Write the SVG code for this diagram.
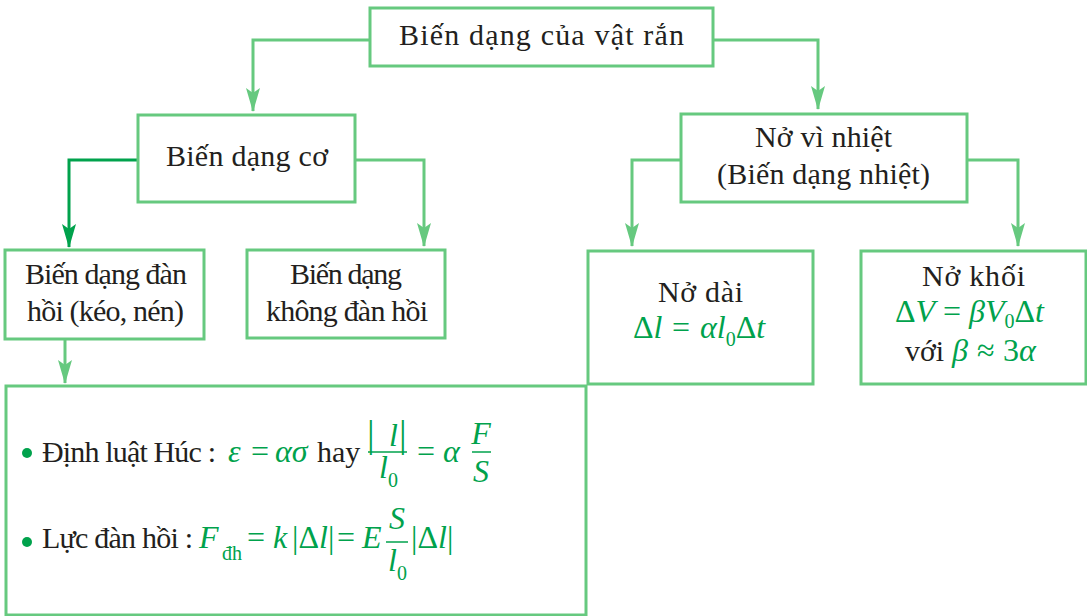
<svg xmlns="http://www.w3.org/2000/svg" width="1087" height="616" viewBox="0 0 1087 616" font-family="'Liberation Serif', 'DejaVu Serif', serif">
<style>
.box{fill:#fff;stroke:#66c97f;stroke-width:3}
.conn{fill:none;stroke:#66c97f;stroke-width:3}
.conn.dark{stroke:#00a24c}
text{font-family:'Liberation Serif','DejaVu Serif',serif;font-size:30px;fill:#231f20}
.c{text-anchor:middle}
.g{fill:#00a24c;font-size:32px}
.i{font-style:italic}
.sub{font-size:20px}
.bar{font-size:38px}
.fl{stroke:#00a24c;stroke-width:1.5}
</style>
<defs>
<marker id="ah" viewBox="0 0 24 14" refX="23" refY="7" markerWidth="24" markerHeight="14" orient="auto" markerUnits="userSpaceOnUse">
<path d="M0,0 L24,7 L0,14 L5,7 Z" fill="#66c97f"/>
</marker>
<marker id="ahd" viewBox="0 0 24 14" refX="23" refY="7" markerWidth="24" markerHeight="14" orient="auto" markerUnits="userSpaceOnUse">
<path d="M0,0 L24,7 L0,14 L5,7 Z" fill="#00a24c"/>
</marker>
</defs>

<g id="connectors">
<path class="conn" d="M370,40 H253 V111" marker-end="url(#ah)"/>
<path class="conn" d="M713,40 H818 V109" marker-end="url(#ah)"/>
<path class="conn dark" d="M138,160 H69 V247" marker-end="url(#ahd)"/>
<path class="conn" d="M355,160 H424 V246" marker-end="url(#ah)"/>
<path class="conn" d="M681,160 H632 V246" marker-end="url(#ah)"/>
<path class="conn" d="M967,160 H1018 V246" marker-end="url(#ah)"/>
<path class="conn" d="M65,339 V383" marker-end="url(#ah)"/>
</g>

<g id="root">
<rect class="box" x="370" y="8" width="343" height="58"/>
<text x="399" y="45" textLength="285" lengthAdjust="spacing">Biến dạng của vật rắn</text>
</g>

<g id="bien-dang-co">
<rect class="box" x="138" y="115" width="217" height="87"/>
<text x="166" y="166" textLength="162" lengthAdjust="spacing">Biến dạng cơ</text>
</g>

<g id="no-vi-nhiet">
<rect class="box" x="681" y="114" width="286" height="88"/>
<text x="755" y="147" textLength="137" lengthAdjust="spacing">Nở vì nhiệt</text>
<text x="717" y="184" textLength="213" lengthAdjust="spacing">(Biến dạng nhiệt)</text>
</g>

<g id="dan-hoi">
<rect class="box" x="5" y="250" width="199" height="89"/>
<text x="25" y="284" textLength="162" lengthAdjust="spacing">Biến dạng đàn</text>
<text x="27" y="321" textLength="157" lengthAdjust="spacing">hồi (kéo, nén)</text>
</g>

<g id="khong-dan-hoi">
<rect class="box" x="247" y="250" width="198" height="88"/>
<text x="290" y="284" textLength="112" lengthAdjust="spacing">Biến dạng</text>
<text x="266" y="321" textLength="162" lengthAdjust="spacing">không đàn hồi</text>
</g>

<g id="no-dai">
<rect class="box" x="588" y="251" width="225" height="133"/>
<text x="658" y="302" textLength="85" lengthAdjust="spacing">Nở dài</text>
<text class="g" x="633" y="338">Δ<tspan class="i">l</tspan></text>
<text class="g" x="672" y="338">=</text>
<text class="g" x="700" y="338"><tspan class="i">αl</tspan><tspan class="sub" dy="8">0</tspan><tspan dy="-8">Δ</tspan><tspan class="i">t</tspan></text>
</g>

<g id="no-khoi">
<rect class="box" x="861" y="251" width="225" height="133"/>
<text x="922" y="286" textLength="103" lengthAdjust="spacing">Nở khối</text>
<text class="g" x="895" y="322">Δ<tspan class="i">V</tspan></text>
<text class="g" x="943" y="322">=</text>
<text class="g" x="969" y="322"><tspan class="i">βV</tspan><tspan class="sub" dy="6">0</tspan><tspan dy="-6">Δ</tspan><tspan class="i">t</tspan></text>
<text x="905" y="361">với</text>
<text class="g i" x="952" y="361">β</text>
<text class="g" x="977" y="361">≈</text>
<text class="g" x="1003" y="361">3<tspan class="i">α</tspan></text>
</g>

<g id="formulas">
<rect class="box" x="6" y="386" width="580" height="229"/>
<circle cx="27" cy="453" r="5" fill="#00a24c"/>
<text x="42" y="462" textLength="174" lengthAdjust="spacing">Định luật Húc :</text>
<text class="g i" x="228" y="462">ε</text>
<text class="g" x="251" y="462">=</text>
<text class="g i" x="275" y="462">ασ</text>
<text x="317" y="462">hay</text>
<text class="g bar" x="367" y="447">|</text>
<text class="g i" x="389" y="446">l</text>
<text class="g bar" x="399" y="447">|</text>
<line class="fl" x1="368" y1="452" x2="407" y2="452"/>
<text class="g" x="379" y="478"><tspan class="i">l</tspan><tspan class="sub" dy="9">0</tspan></text>
<text class="g" x="417" y="462">=</text>
<text class="g i" x="443" y="462">α</text>
<text class="g c i" x="481" y="444">F</text>
<line class="fl" x1="472" y1="452" x2="491" y2="452"/>
<text class="g c i" x="481" y="482">S</text>

<circle cx="27" cy="542" r="5" fill="#00a24c"/>
<text x="42" y="548" textLength="151" lengthAdjust="spacing">Lực đàn hồi :</text>
<text class="g i" x="199" y="548">F</text>
<text class="g sub" x="222" y="560">đh</text>
<text class="g" x="247" y="548">=</text>
<text class="g i" x="273" y="548">k</text>
<text class="g" x="292" y="548">|Δ<tspan class="i">l</tspan>|</text>
<text class="g" x="337" y="548">=</text>
<text class="g i" x="362" y="548">E</text>
<text class="g c i" x="397" y="529">S</text>
<line class="fl" x1="386" y1="542" x2="408" y2="542"/>
<text class="g" x="388" y="571"><tspan class="i">l</tspan><tspan class="sub" dy="9">0</tspan></text>
<text class="g" x="411" y="548">|Δ<tspan class="i">l</tspan>|</text>
</g>
</svg>
